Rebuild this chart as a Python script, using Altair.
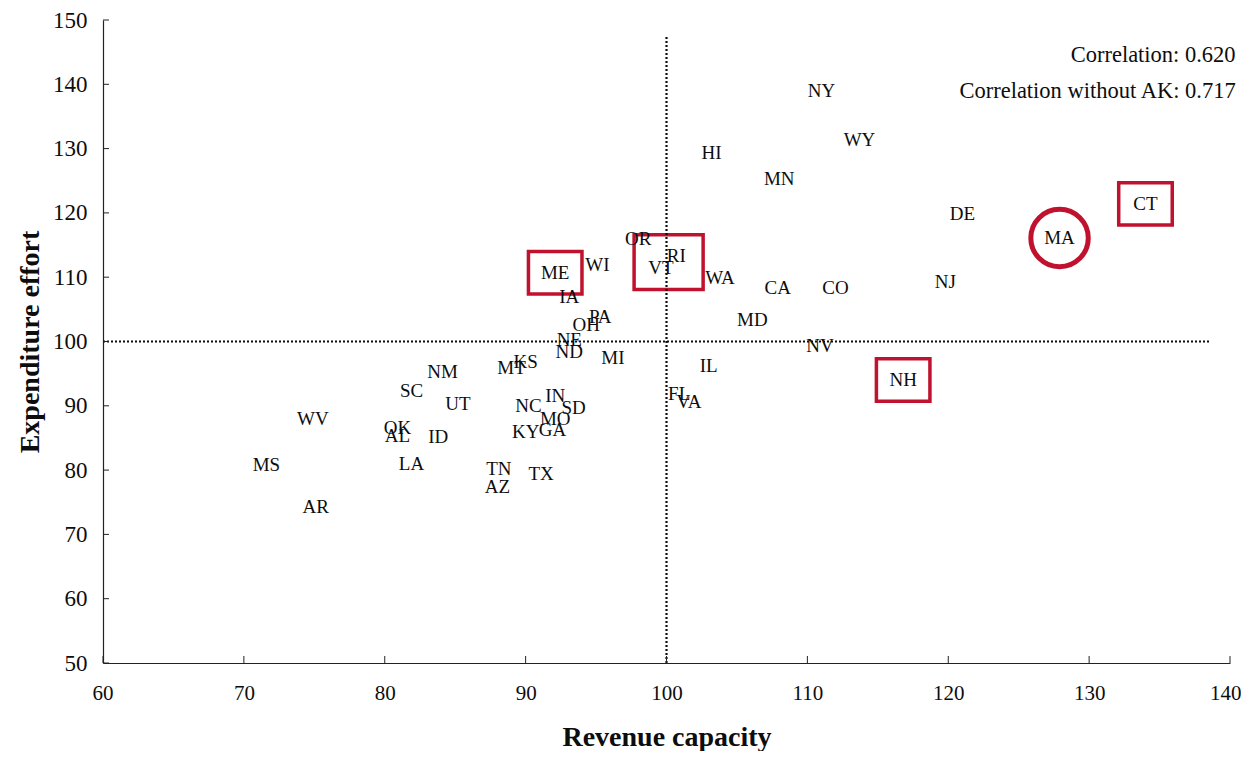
import altair as alt
import pandas as pd

# --- data ---
states = ["NY", "WY", "HI", "MN", "DE", "CT", "MA", "NJ", "CO", "CA", "WA", "MD", "NV",
          "NH", "IL", "FL", "VA", "RI", "VT", "OR", "ME", "WI", "IA", "PA", "OH", "NE",
          "ND", "MI", "KS", "MT", "NM", "SC", "UT", "IN", "NC", "SD", "MO", "KY", "GA",
          "WV", "OK", "AL", "ID", "LA", "MS", "TN", "TX", "AZ", "AR"]
revenue_capacity = [111.0, 113.7, 103.2, 108.0, 121.0, 134.0, 127.9, 119.8, 112.0, 107.9,
                    103.8, 106.1, 110.9, 116.8, 103.0, 100.9, 101.6, 100.7, 99.6, 98.0,
                    92.1, 95.1, 93.1, 95.3, 94.3, 93.1, 93.1, 96.2, 90.0, 89.0,
                    84.1, 81.9, 85.2, 92.1, 90.2, 93.4, 92.1, 90.0, 91.9, 74.9,
                    80.9, 80.9, 83.8, 81.9, 71.6, 88.1, 91.1, 88.0, 75.1]
expenditure_effort = [139.0, 131.3, 129.3, 125.3, 119.8, 121.4, 116.1, 109.3, 108.3, 108.3,
                      109.9, 103.3, 99.3, 94.0, 96.2, 91.8, 90.6, 113.3, 111.4, 115.9,
                      110.7, 111.9, 106.9, 103.8, 102.6, 100.2, 98.4, 97.4, 96.8, 95.9,
                      95.3, 92.3, 90.3, 91.5, 90.0, 89.7, 88.0, 85.9, 86.2, 88.0,
                      86.5, 85.3, 85.1, 81.0, 80.8, 80.2, 79.4, 77.4, 74.3]

boxed_groups = [["ME"], ["VT", "RI"], ["CT"], ["NH"]]
circled_states = ["MA"]

corr_texts = ["Correlation: 0.620", "Correlation without AK: 0.717"]
x_ticks = [60, 70, 80, 90, 100, 110, 120, 130, 140]
y_ticks = [50, 60, 70, 80, 90, 100, 110, 120, 130, 140, 150]

FONT = "Liberation Serif"
RED = "#c0122e"
INK = "#0d0d0d"

df = pd.DataFrame({"state": states, "rev": revenue_capacity, "exp": expenditure_effort})
pos = df.set_index("state")

# highlight boxes around labels (derived from label positions)
bx = []
for g in boxed_groups:
    sub = pos.loc[g]
    bx.append({"x1": sub.rev.min() - 1.9, "x2": sub.rev.max() + 1.9,
               "y1": sub.exp.min() - 3.3, "y2": sub.exp.max() + 3.3})
boxes = pd.DataFrame(bx)
circ = df[df.state.isin(circled_states)]

corr_df = pd.DataFrame({"t": corr_texts, "x": [140.4, 140.4], "y": [144.6, 139.0]})

xs = alt.Scale(domain=[60, 140], nice=False, zero=False)
ys = alt.Scale(domain=[50, 150], nice=False, zero=False)

x_axis = alt.Axis(values=x_ticks, ticks=False, grid=False, title="Revenue capacity",
                  labelFont=FONT, labelFontSize=21, labelPadding=19, labelColor=INK,
                  labelFlush=True, labelFlushOffset=11,
                  titleFont=FONT, titleFontSize=28, titleFontWeight="bold", titleColor=INK,
                  titlePadding=20, domainColor="#222", domainWidth=1.2)
y_axis = alt.Axis(values=y_ticks, ticks=False, grid=False, title="Expenditure effort",
                  labelFont=FONT, labelFontSize=23, labelPadding=16, labelColor=INK,
                  labelFlush=False,
                  titleFont=FONT, titleFontSize=28, titleFontWeight="bold", titleColor=INK,
                  titlePadding=8, domainColor="#222", domainWidth=1.2)

base_x = alt.X("rev:Q", scale=xs, axis=x_axis)
base_y = alt.Y("exp:Q", scale=ys, axis=y_axis)

labels = alt.Chart(df).mark_text(font=FONT, fontSize=19, color=INK,
                                 align="center", baseline="middle").encode(
    x=base_x, y=base_y, text="state:N")

# reference lines at 100
hline = alt.Chart(pd.DataFrame({"y": [100], "x1": [60], "x2": [138.6]})).mark_rule(
    strokeDash=[2, 2], strokeWidth=2.2, color=INK).encode(
    x=alt.X("x1:Q", scale=xs), x2="x2:Q", y=alt.Y("y:Q", scale=ys))
vline = alt.Chart(pd.DataFrame({"x": [100], "y1": [50], "y2": [147.4]})).mark_rule(
    strokeDash=[2, 2], strokeWidth=2.2, color=INK).encode(
    x=alt.X("x:Q", scale=xs), y=alt.Y("y1:Q", scale=ys), y2="y2:Q")

# inward ticks
xt = alt.Chart(pd.DataFrame({"v": x_ticks})).mark_rule(color="#222", strokeWidth=1).encode(
    x=alt.X("v:Q", scale=xs), y=alt.value(643), y2=alt.value(636))
yt = alt.Chart(pd.DataFrame({"v": y_ticks})).mark_rule(color="#222", strokeWidth=1).encode(
    y=alt.Y("v:Q", scale=ys), x=alt.value(0), x2=alt.value(6))

box_layer = alt.Chart(boxes).mark_rect(fillOpacity=0, stroke=RED, strokeWidth=3.5).encode(
    x=alt.X("x1:Q", scale=xs), x2="x2:Q", y=alt.Y("y1:Q", scale=ys), y2="y2:Q")
circle_layer = alt.Chart(circ).mark_point(shape="circle", size=3300, filled=False,
                                          opacity=1, stroke=RED, strokeWidth=5).encode(
    x=alt.X("rev:Q", scale=xs), y=alt.Y("exp:Q", scale=ys))

corr = alt.Chart(corr_df).mark_text(font=FONT, fontSize=22.5, color=INK, align="right",
                                    baseline="middle").encode(
    x=alt.X("x:Q", scale=xs), y=alt.Y("y:Q", scale=ys), text="t:N")

chart = alt.layer(box_layer, circle_layer, hline, vline, xt, yt, labels, corr).properties(
    width=1127, height=643,
    padding={"left": 95, "top": 12, "right": 11, "bottom": 88},
    autosize=alt.AutoSizeParams(type="none"),
    background="white",
).configure_view(stroke=None)

chart.save("out.html", embed_options={"renderer": "svg", "actions": False})
